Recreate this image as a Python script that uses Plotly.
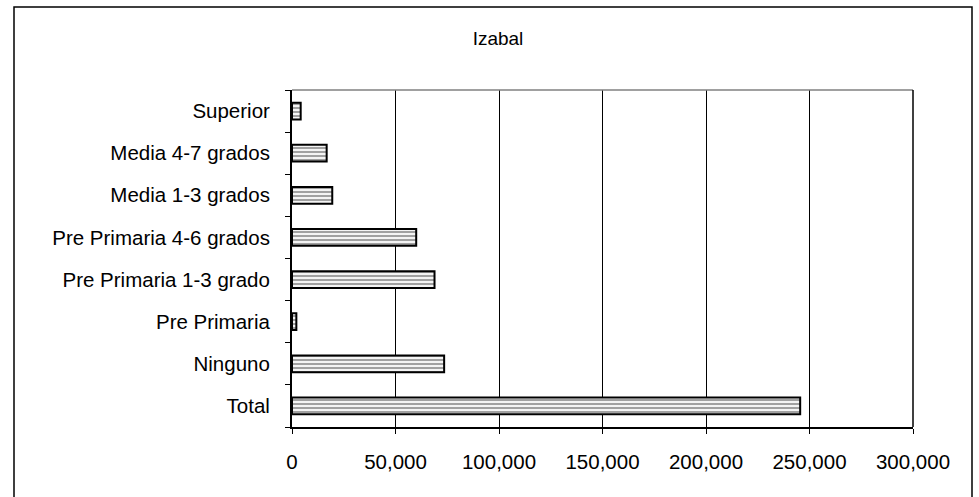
import plotly.graph_objects as go

# Población por nivel educativo — Izabal
categorias = ["Total", "Ninguno", "Pre Primaria", "Pre Primaria 1-3 grado",
              "Pre Primaria 4-6 grados", "Media 1-3 grados", "Media 4-7 grados", "Superior"]
valores = [245500, 73500, 2100, 68850, 60000, 19450, 16750, 4200]
ticks_x = [0, 50000, 100000, 150000, 200000, 250000, 300000]
etiquetas_x = ["0", "50,000", "100,000", "150,000", "200,000", "250,000", "300,000"]

W, H = 979, 497
L, R, T, B = 292, 66, 90, 70
pw, ph = W - L - R, H - T - B

fig = go.Figure(go.Bar(
    x=valores, y=categorias, orientation="h",
    marker=dict(
        color="white",
        line=dict(color="black", width=2),
        pattern=dict(shape="-", fgcolor="#4e4e4e", bgcolor="#f4f4f4", size=4, solidity=0.5),
    ),
    width=0.4,
))

fig.update_layout(
    width=W, height=H,
    margin=dict(l=L, r=R, t=T, b=B),
    paper_bgcolor="white", plot_bgcolor="white",
    font=dict(family="Liberation Sans, Arial, sans-serif", size=20.5, color="black"),
    showlegend=False,
    title=dict(text="Izabal", x=498 / W, xanchor="center", y=1 - 38 / H, yanchor="middle",
               font=dict(size=19)),
    xaxis=dict(
        range=[0, 300000], tickvals=ticks_x, ticktext=etiquetas_x,
        showgrid=True, gridcolor="black", gridwidth=1,
        ticks="outside", ticklen=5, tickcolor="black",
        showline=True, linecolor="black", linewidth=2, mirror=False,
        zeroline=False, ticklabelstandoff=10,
    ),
    yaxis=dict(
        type="category", categoryorder="array", categoryarray=categorias,
        tickson="boundaries", ticks="outside", ticklen=5, tickcolor="black",
        showline=True, linecolor="black", linewidth=2,
        showgrid=False, ticklabelstandoff=16,
    ),
    shapes=[
        # marco exterior del gráfico
        dict(type="rect", xref="paper", yref="paper",
             x0=(14 - L) / pw, x1=(972 - L) / pw,
             y0=-0.4, y1=(H - B - 7) / ph,
             line=dict(color="black", width=1.5), layer="below"),
        # bordes superior y derecho del área de trazado
        dict(type="line", xref="paper", yref="paper", x0=0, x1=1, y0=1, y1=1,
             line=dict(color="#808080", width=1.5)),
        dict(type="line", xref="paper", yref="paper", x0=1, x1=1, y0=0, y1=1,
             line=dict(color="black", width=1.5)),
    ],
)

fig.write_html("out.html")
